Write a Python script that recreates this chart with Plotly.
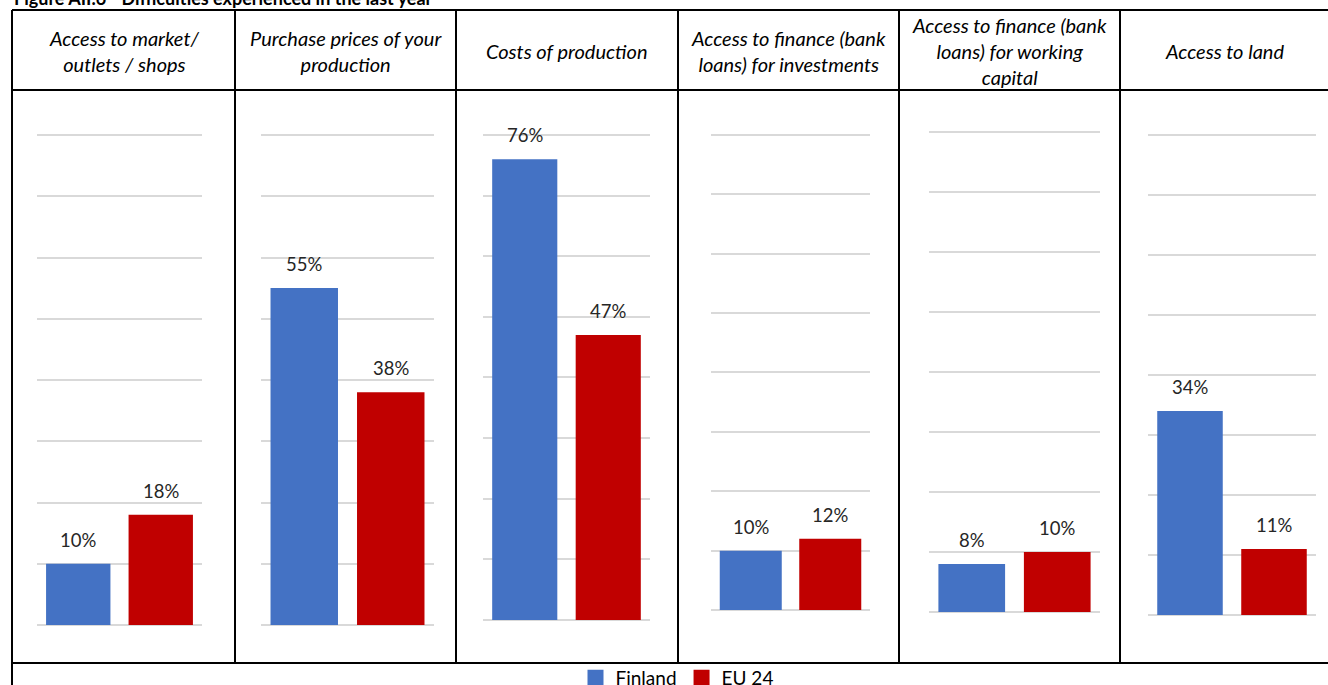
import plotly.graph_objects as go

# ---- data ----
categories = [
    "Access to market/<br>outlets / shops",
    "Purchase prices of your<br>production",
    "Costs of production",
    "Access to finance (bank<br>loans) for investments",
    "Access to finance (bank<br>loans) for working<br>capital",
    "Access to land",
]
series_names = ["Finland", "EU 24"]
finland = [0.10, 0.55, 0.76, 0.10, 0.08, 0.34]
eu24 = [0.18, 0.38, 0.47, 0.12, 0.10, 0.11]
title_text = "Figure AII.6 - Difficulties experienced in the last year"

# ---- styling / layout constants ----
W, H = 1328, 685
colors = ["#4472C4", "#C00000"]
FONT = "Lato, 'Open Sans', sans-serif"
YMAX, YPAD = 0.8, 0.82
# plot-area pixel boxes per panel: (x0, x1, y of top gridline, y of baseline)
boxes = [
    (37, 202, 135, 625),
    (261, 434, 135, 625),
    (483, 650, 135, 620),
    (711, 870, 135, 610),
    (929, 1100, 132, 612),
    (1148, 1316, 135, 615),
]
col_lines = [12, 235, 456, 678, 899, 1120, W]
y_top, y_head, y_leg = 10, 90, 663


def px(x):
    return x / W


def py(y):
    return 1 - y / H


fig = go.Figure()
layout = dict(
    width=W, height=H,
    margin=dict(l=0, r=0, t=0, b=0, autoexpand=False),
    paper_bgcolor="white", plot_bgcolor="white",
    barmode="group", bargap=0.22, bargroupgap=0,
    font=dict(family=FONT, color="#000000"),
    showlegend=True,
    legend=dict(orientation="h", x=px(677), y=py(678), xanchor="center", yanchor="middle",
                font=dict(size=19, family=FONT, color="#000000"), itemsizing="trace",
                itemwidth=30, tracegroupgap=0,
                bgcolor="rgba(0,0,0,0)", traceorder="normal"),
)
annotations = []
shapes = []

for i, cat in enumerate(categories):
    n = "" if i == 0 else str(i + 1)
    xa, ya = "x" + n, "y" + n
    x0, x1, yt, yb = boxes[i]
    ytop_dom = yb - (yb - yt) * YPAD / YMAX
    vals = [finland[i], eu24[i]]
    for s, (name, v) in enumerate(zip(series_names, vals)):
        fig.add_trace(go.Bar(
            x=[name], y=[v], name=name, marker=dict(color=colors[s], line=dict(width=0)),
            xaxis=xa, yaxis=ya, showlegend=False, legendgroup=name,
            width=0.78, hoverinfo="skip",
        ))
        annotations.append(dict(
            x=name, y=v, xref=xa, yref=ya, text=f"{round(v * 100)}%",
            showarrow=False, yanchor="middle", yshift=24,
            font=dict(size=18.5, family=FONT, color="#262626"),
        ))
    layout["xaxis" + n] = dict(
        domain=[px(x0), px(x1)], anchor=ya, range=[-0.5, 1.5],
        showticklabels=False, showgrid=False, zeroline=False, showline=False,
        fixedrange=True,
    )
    layout["yaxis" + n] = dict(
        domain=[py(yb), py(ytop_dom)], anchor=xa, range=[0, YPAD], tick0=0, dtick=0.1,
        showticklabels=False, showgrid=True, gridcolor="#d9d9d9", gridwidth=2,
        zeroline=True, zerolinecolor="#d9d9d9", zerolinewidth=2, showline=False,
        fixedrange=True,
    )
    # header text
    cx = (col_lines[i] + col_lines[i + 1]) / 2
    annotations.append(dict(
        x=px(cx), y=py((y_top + y_head) / 2 + 1), xref="paper", yref="paper",
        text=f"<i>{cat}</i>", showarrow=False, xanchor="center", yanchor="middle",
        align="center", font=dict(size=20, family=FONT, color="#000000"),
    ))

# legend proxies (square markers like the reference legend)
for s, name in enumerate(series_names):
    fig.add_trace(go.Scatter(
        x=[None], y=[None], mode="markers", name=name, legendgroup=name,
        marker=dict(symbol="square", size=16, color=colors[s]), showlegend=True,
        hoverinfo="skip",
    ))

# title (partially cut off at top, as in the reference)
annotations.append(dict(
    x=px(12), y=py(-2), xref="paper", yref="paper", text=f"<b>{title_text}</b>",
    showarrow=False, xanchor="left", yanchor="middle",
    font=dict(size=18, family=FONT, color="#000000"),
))

# table borders
line = dict(color="black", width=2)
for yy in (y_top, y_head, y_leg):
    shapes.append(dict(type="line", xref="paper", yref="paper",
                       x0=px(12), x1=1, y0=py(yy), y1=py(yy), line=line))
shapes.append(dict(type="line", xref="paper", yref="paper",
                   x0=px(12), x1=px(12), y0=py(y_top), y1=0, line=line))
for xx in col_lines[1:-1]:
    shapes.append(dict(type="line", xref="paper", yref="paper",
                       x0=px(xx), x1=px(xx), y0=py(y_top), y1=py(y_leg), line=line))

layout["annotations"] = annotations
layout["shapes"] = shapes
fig.update_layout(**layout)
fig.write_html(
    "out.html",
    config={"displayModeBar": False},
    post_script="document.body.style.margin='0';document.body.style.overflow='hidden';",
)
